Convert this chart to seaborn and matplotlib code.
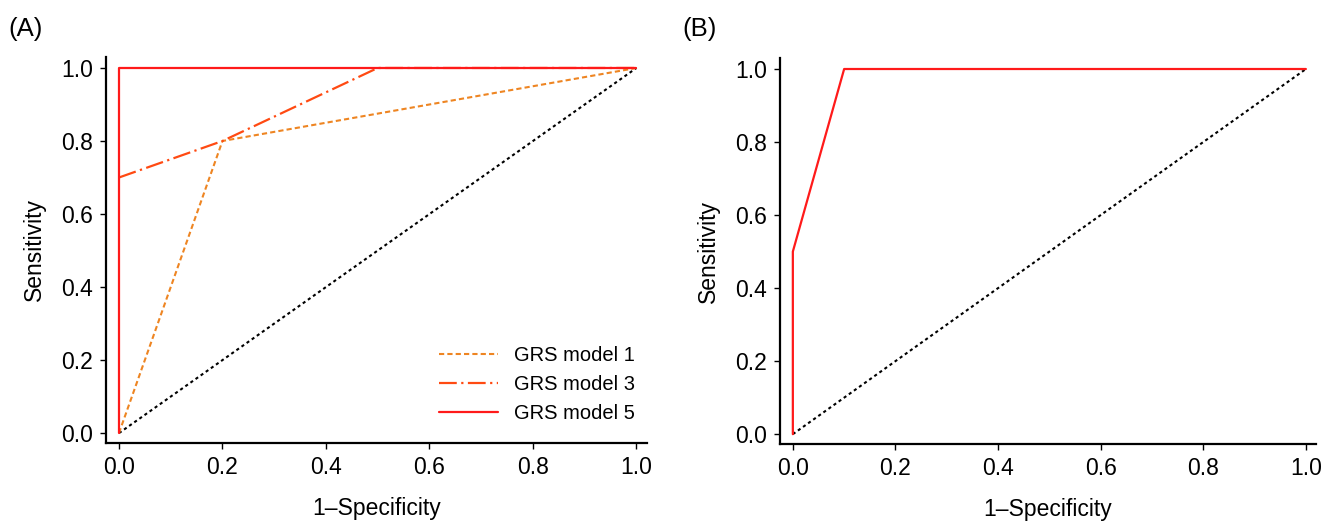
import numpy as np
import pandas as pd
import matplotlib
matplotlib.use("Agg")
import matplotlib.pyplot as plt
import seaborn as sns

# ROC points
ref_x = [0.0, 1.0]
ref_y = [0.0, 1.0]

a_m1_x = [0.0, 0.2, 1.0]
a_m1_y = [0.0, 0.8, 1.0]
a_m3_x = [0.0, 0.2, 0.5, 1.0]
a_m3_y = [0.7, 0.8, 1.0, 1.0]
a_m5_x = [0.0, 0.0, 1.0]
a_m5_y = [0.0, 1.0, 1.0]

b_m5_x = [0.0, 0.0, 0.1, 1.0]
b_m5_y = [0.0, 0.5, 1.0, 1.0]

ticks = [0.0, 0.2, 0.4, 0.6, 0.8, 1.0]
tick_labels = ["0.0", "0.2", "0.4", "0.6", "0.8", "1.0"]

c_m1 = "#EE8522"
c_m3 = "#FF4A12"
c_m5 = "#FF1A1A"

sns.set_style("ticks")
plt.rcParams["font.family"] = ["Liberation Sans", "DejaVu Sans"]
plt.rcParams["text.color"] = "black"
plt.rcParams["axes.labelcolor"] = "black"
plt.rcParams["xtick.color"] = "black"
plt.rcParams["ytick.color"] = "black"

fig = plt.figure(figsize=(13.32, 5.23), dpi=100)
ax_a = fig.add_axes([0.0796, 0.153, 0.406, 0.738])
ax_b = fig.add_axes([0.5856, 0.151, 0.4025, 0.738])


def line(ax, xs, ys, color, label=None, **kw):
    df = pd.DataFrame({"x": xs, "y": ys})
    sns.lineplot(data=df, x="x", y="y", ax=ax, sort=False, estimator=None,
                 color=color, label=label, **kw)


def style(ax):
    ax.set_xlim(-0.025, 1.02)
    ax.set_ylim(-0.027, 1.03)
    ax.set_xticks(ticks)
    ax.set_xticklabels(tick_labels)
    ax.set_yticks(ticks)
    ax.set_yticklabels(tick_labels)
    ax.tick_params(labelsize=16.5, length=4.5, width=1.0, color="black", pad=5)
    for s in ["top", "right"]:
        ax.spines[s].set_visible(False)
    for s in ["left", "bottom"]:
        ax.spines[s].set_linewidth(1.6)
        ax.spines[s].set_color("black")
    ax.set_xlabel("1\u2013Specificity", fontsize=16.5, labelpad=13)
    ax.set_ylabel("Sensitivity", fontsize=16.5, labelpad=11)


# panel A
line(ax_a, ref_x, ref_y, "black", linestyle=(0, (1.5, 1.5)), linewidth=1.5)
line(ax_a, a_m1_x, a_m1_y, c_m1, label="GRS model 1",
     linestyle=(0, (2.5, 1.5)), linewidth=1.5)
line(ax_a, a_m3_x, a_m3_y, c_m3, label="GRS model 3",
     linestyle=(0, (8, 2, 1, 2)), linewidth=1.6)
line(ax_a, a_m5_x, a_m5_y, c_m5, label="GRS model 5", linewidth=1.6)
style(ax_a)
ax_a.legend(loc="lower right", frameon=False, fontsize=14.5, handlelength=2.9,
            borderaxespad=0.2, labelspacing=0.5, handletextpad=0.8,
            bbox_to_anchor=(1.0, 0.02))

# panel B
line(ax_b, ref_x, ref_y, "black", linestyle=(0, (1.5, 1.5)), linewidth=1.5)
line(ax_b, b_m5_x, b_m5_y, c_m5, linewidth=1.6)
style(ax_b)
if ax_b.get_legend() is not None:
    ax_b.get_legend().remove()

fig.text(0.006, 0.968, "(A)", fontsize=18.5, va="top", ha="left")
fig.text(0.512, 0.968, "(B)", fontsize=18.5, va="top", ha="left")

fig.savefig("out.png", dpi=100)
